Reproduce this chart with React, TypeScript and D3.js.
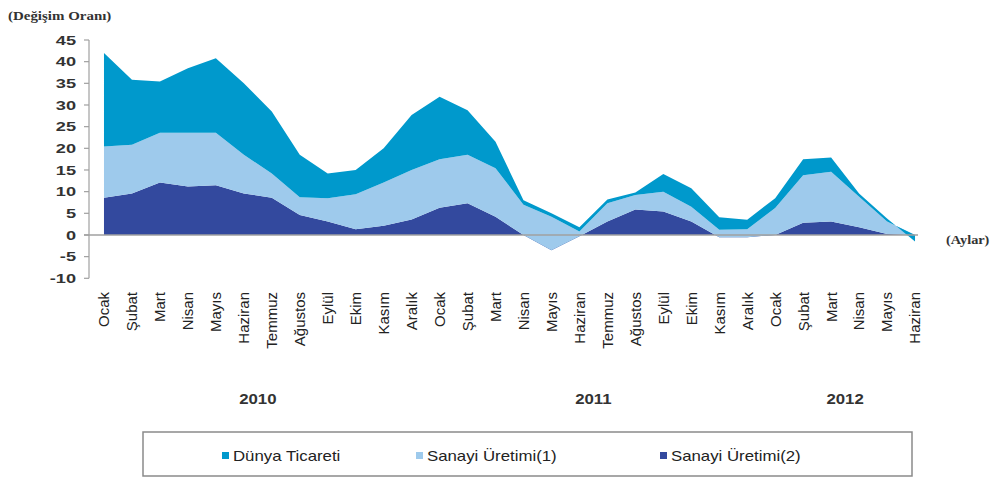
import React from "react";
import * as d3 from "d3";

const months: string[] = [
  "Ocak", "Şubat", "Mart", "Nisan", "Mayıs", "Haziran", "Temmuz", "Ağustos", "Eylül", "Ekim", "Kasım", "Aralık",
  "Ocak", "Şubat", "Mart", "Nisan", "Mayıs", "Haziran", "Temmuz", "Ağustos", "Eylül", "Ekim", "Kasım", "Aralık",
  "Ocak", "Şubat", "Mart", "Nisan", "Mayıs", "Haziran",
];
const years: string[] = ["2010", "2011", "2012"];
const yearMonthCounts: number[] = [12, 12, 6];

// stacked series values (Excel-style stacked area)
const sanayi2: number[] = [
  8.6, 9.6, 12.1, 11.2, 11.5, 9.6, 8.6, 4.6, 3.1, 1.3, 2.1, 3.6,
  6.3, 7.3, 4.2, 0.0, -3.5, -0.3, 3.1, 5.9, 5.4, 3.1, -0.5, -0.5,
  0.0, 2.8, 3.1, 1.8, 0.2, 0.0,
];
const sanayi1: number[] = [
  11.8, 11.2, 11.5, 12.4, 12.1, 8.9, 5.6, 4.1, 5.4, 8.1, 10.0, 11.4,
  11.2, 11.2, 11.2, 7.0, 7.7, 1.1, 4.2, 3.3, 4.6, 3.4, 1.7, 1.8,
  6.2, 11.0, 11.5, 7.0, 2.9, 0.0,
];
const dunya: number[] = [
  21.6, 15.0, 11.8, 14.9, 17.2, 16.5, 14.3, 9.8, 5.7, 5.6, 7.9, 12.7,
  14.4, 10.3, 6.1, 1.0, 0.8, 1.0, 0.9, 0.6, 4.1, 4.3, 2.9, 2.2,
  2.3, 3.7, 3.3, 0.8, 0.7, -1.5,
];
const yTicks: number[] = [-10, -5, 0, 5, 10, 15, 20, 25, 30, 35, 40, 45];
const seriesKeys: string[] = ["sanayi2", "sanayi1", "dunya"];
const seriesNames: string[] = ["Sanayi Üretimi(2)", "Sanayi Üretimi(1)", "Dünya Ticareti"];
const seriesColors: string[] = ["#33499e", "#9ecaec", "#0099cc"];

const SANS = "'Liberation Sans', Arial, sans-serif";
const SERIF = "'Liberation Serif', 'Times New Roman', serif";

export default function App() {
  const width = 994;
  const height = 478;

  const x = d3
    .scaleBand<number>()
    .domain(months.map((_, i) => i))
    .range([90, 929])
    .paddingInner(0)
    .paddingOuter(0);
  const cx = (i: number) => (x(i) as number) + x.bandwidth() / 2;

  const y = d3.scaleLinear().domain([-10, 45]).range([278.3, 40]);

  const rows = months.map((_, i) => ({
    i,
    sanayi2: sanayi2[i],
    sanayi1: sanayi1[i],
    dunya: dunya[i],
  }));

  const stack = d3
    .stack<any>()
    .keys(seriesKeys)
    .order(d3.stackOrderNone)
    .offset(d3.stackOffsetNone);
  const stacked = stack(rows);

  const area = d3
    .area<any>()
    .x((d) => cx(d.data.i))
    .y0((d) => y(d[0]))
    .y1((d) => y(d[1]));

  const axisX = 89;

  let start = 0;
  const yearPos = years.map((yr, k) => {
    const idx = d3.range(start, start + yearMonthCounts[k]);
    start += yearMonthCounts[k];
    return { yr, x: d3.mean(idx.map(cx)) as number };
  });

  const legendOrder = [2, 1, 0];
  const legendX = [226, 420, 664];

  return (
    <svg
      width={width}
      height={height}
      style={{ position: "absolute", left: 0, top: 0, background: "#fff" }}
    >
      <text
        transform="translate(8,20) scale(1.15,1)"
        fontFamily={SERIF}
        fontWeight="bold"
        fontSize={13}
        fill="#333"
      >
        (Değişim Oranı)
      </text>

      {stacked.map((s, k) => (
        <path key={s.key} d={area(s as any) || ""} fill={seriesColors[k]} />
      ))}

      <line x1={axisX} x2={axisX} y1={y(45)} y2={y(-10)} stroke="#a0a0a0" strokeWidth={1.2} />
      {yTicks.map((t) => (
        <g key={t}>
          <line x1={axisX - 5} x2={axisX} y1={y(t)} y2={y(t)} stroke="#a0a0a0" strokeWidth={1.2} />
          <text
            transform={`translate(76,${y(t)}) scale(1.4,1)`}
            textAnchor="end"
            dy="0.36em"
            fontFamily={SANS}
            fontWeight="bold"
            fontSize={13}
            fill="#333"
          >
            {t}
          </text>
        </g>
      ))}
      <line x1={axisX - 5} x2={918} y1={y(0)} y2={y(0)} stroke="#a0a0a0" strokeWidth={1.5} />

      <text
        transform={`translate(946,${y(0) + 9}) scale(1.1,1)`}
        fontFamily={SERIF}
        fontWeight="bold"
        fontSize={13}
        fill="#333"
      >
        (Aylar)
      </text>

      {months.map((m, i) => (
        <text
          key={i}
          transform={`translate(${cx(i)},292) rotate(-90)`}
          textAnchor="end"
          dy="0.36em"
          fontFamily={SANS}
          fontSize={15}
          fill="#222"
        >
          {m}
        </text>
      ))}

      {yearPos.map((p) => (
        <text
          key={p.yr}
          transform={`translate(${p.x},404) scale(1.2,1)`}
          textAnchor="middle"
          fontFamily={SANS}
          fontWeight="bold"
          fontSize={14}
          fill="#333"
        >
          {p.yr}
        </text>
      ))}

      <rect x={143} y={432} width={769} height={44} fill="#fff" stroke="#8a8a8a" strokeWidth={1.5} />
      {legendOrder.map((k, j) => (
        <g key={k}>
          <rect x={legendX[j] - 4} y={452} width={7} height={7} fill={seriesColors[k]} />
          <text
            transform={`translate(${legendX[j] + 7},461) scale(1.2,1)`}
            fontFamily={SANS}
            fontSize={14}
            fill="#222"
          >
            {seriesNames[k]}
          </text>
        </g>
      ))}
    </svg>
  );
}
